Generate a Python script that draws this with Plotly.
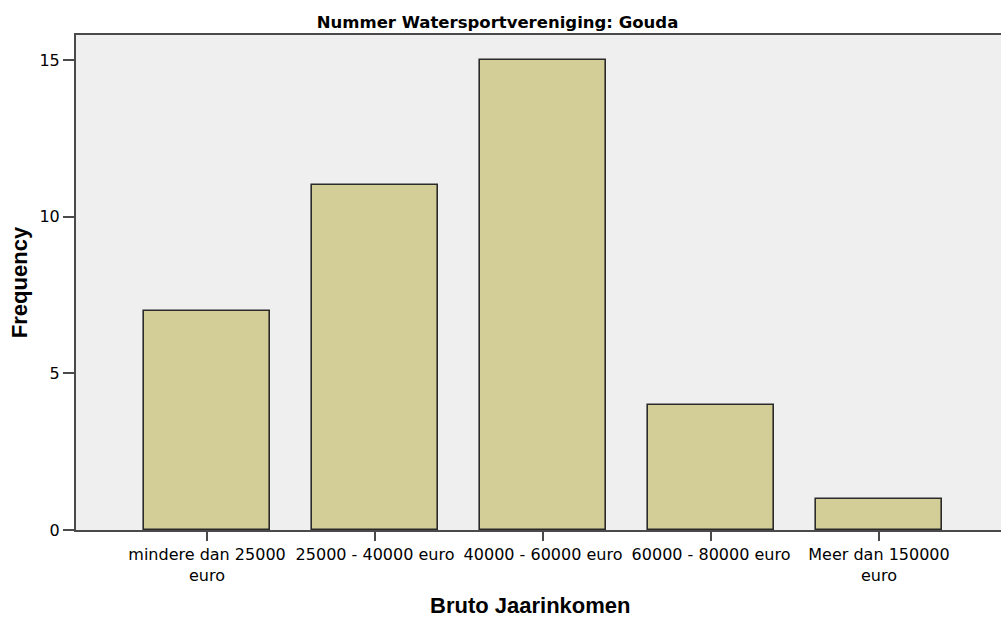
import plotly.graph_objects as go

categories = ["mindere dan 25000", "25000 - 40000 euro", "40000 - 60000 euro",
              "60000 - 80000 euro", "Meer dan 150000"]
second_lines = ["euro", "", "", "", "euro"]
frequency = [7, 11, 15, 4, 1]
y_ticks = [0, 5, 10, 15]

TICK_FONT = dict(size=16, family="DejaVu Sans")

fig = go.Figure()
fig.add_trace(go.Bar(
    x=list(range(len(categories))),
    y=frequency,
    width=0.75,
    marker=dict(color="#D3CE97", line=dict(color="#2b2b2b", width=1.6)),
))

fig.update_layout(
    width=1001, height=618,
    margin=dict(l=76, r=0, t=35, b=88),
    paper_bgcolor="white",
    plot_bgcolor="#EFEFEF",
    showlegend=False,
    font=dict(family="Liberation Sans, Arial, sans-serif", color="black"),
    title=dict(text="<b>Nummer Watersportvereniging: Gouda</b>", x=0.497, xanchor="center",
               y=1 - 22/618, yanchor="middle",
               font=dict(size=16.5, family="DejaVu Sans")),
    bargap=0,
)
fig.update_xaxes(
    range=[-0.78, (1001 - 207) / 168],
    tickmode="array", tickvals=list(range(len(categories))), ticktext=categories,
    ticks="outside", ticklen=9, tickwidth=2, tickcolor="#4a4a4a",
    showline=True, linecolor="#4a4a4a", linewidth=2, mirror=True,
    showgrid=False, zeroline=False,
    tickfont=TICK_FONT,
)
fig.update_yaxes(
    range=[0, 15.8],
    tickmode="array", tickvals=y_ticks,
    ticks="outside", ticklen=11, tickwidth=2, tickcolor="#4a4a4a",
    showline=True, linecolor="#4a4a4a", linewidth=2,
    showgrid=False, zeroline=False,
    tickfont=TICK_FONT,
    title=dict(text="<b>Frequency</b>", font=dict(size=22), standoff=6),
)
for i, s in enumerate(second_lines):
    if s:
        fig.add_annotation(text=s, x=i, xref="x", yref="paper", y=-(575 - 530) / 495,
                           xanchor="center", yanchor="middle", showarrow=False,
                           font=TICK_FONT)
fig.add_annotation(text="<b>Bruto Jaarinkomen</b>", xref="paper", yref="paper",
                   x=(530 - 76) / 925, y=-(605 - 530) / 495, xanchor="center", yanchor="middle",
                   showarrow=False, font=dict(size=22))

fig.write_html("out.html", config={"displayModeBar": False},
               post_script="document.body.style.margin='0';document.body.style.overflow='hidden';")
